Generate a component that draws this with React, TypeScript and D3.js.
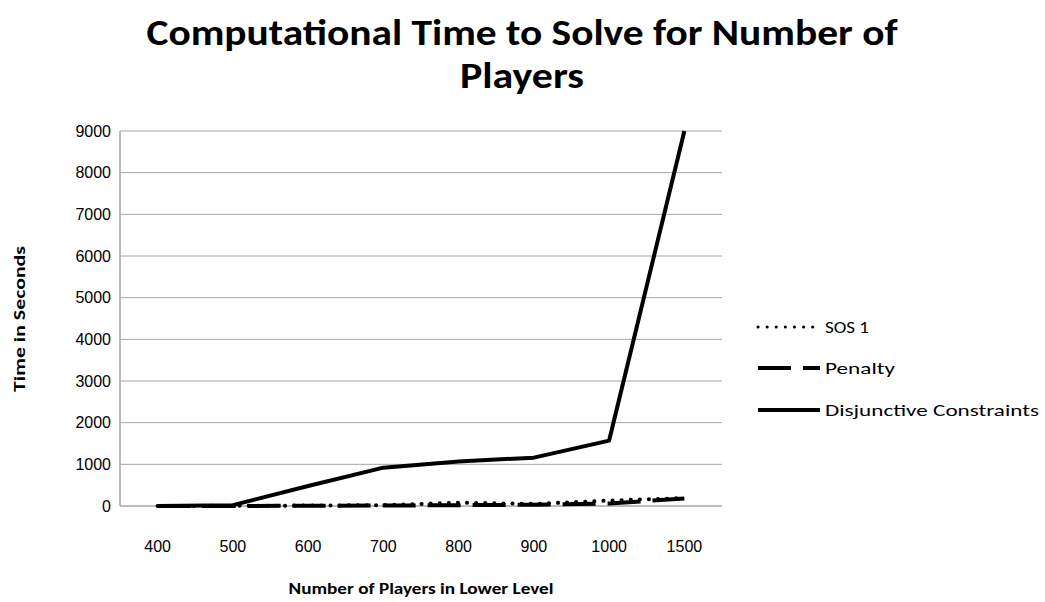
import React from "react";
import * as d3 from "d3";

const categories = ["400", "500", "600", "700", "800", "900", "1000", "1500"];
const sos1 = [0, 5, 10, 20, 80, 50, 130, 190];
const penalty = [0, 2, 5, 10, 20, 30, 60, 180];
const disjunctive = [0, 20, 480, 920, 1070, 1160, 1570, 9000];
const yTicks = [0, 1000, 2000, 3000, 4000, 5000, 6000, 7000, 8000, 9000];
const seriesNames = ["SOS 1", "Penalty", "Disjunctive Constraints"];

const W = 1045;
const H = 602;
const left = 120;
const right = 722;
const top = 131;
const bottom = 506;

const calibri = "Carlito, Lato, 'Open Sans', sans-serif";

export default function App() {
  const x = d3.scalePoint<string>().domain(categories).range([left, right]).padding(0.5);
  const y = d3.scaleLinear().domain([0, 9000]).range([bottom, top]);
  const line = d3
    .line<number>()
    .x((_, i) => x(categories[i]) as number)
    .y((d) => y(d));

  const styles = [
    { dash: "0.1,9", cap: "round", width: 4 },
    { dash: "33,12", cap: "butt", width: 4 },
    { dash: "none", cap: "butt", width: 4 },
  ];
  const data = [sos1, penalty, disjunctive];
  const legendY = [327, 368, 410];

  return (
    <svg
      width={W}
      height={H}
      style={{ position: "absolute", left: 0, top: 0, background: "#fff" }}
    >
      <rect width={W} height={H} fill="#fff" />
      <text
        x={522}
        y={45}
        textAnchor="middle"
        fontFamily={calibri}
        fontWeight="bold"
        fontSize={36}
        textLength={751}
        lengthAdjust="spacingAndGlyphs"
      >
        Computational Time to Solve for Number of
      </text>
      <text
        x={522}
        y={88}
        textAnchor="middle"
        fontFamily={calibri}
        fontWeight="bold"
        fontSize={36}
        textLength={124}
        lengthAdjust="spacingAndGlyphs"
      >
        Players
      </text>

      {yTicks.map((t) => (
        <g key={t}>
          {t > 0 && (
            <line x1={left} x2={right} y1={y(t)} y2={y(t)} stroke="#a6a6a6" strokeWidth={1} />
          )}
          <text
            x={111}
            y={y(t)}
            dy="0.36em"
            textAnchor="end"
            fontFamily="'Liberation Sans', Arial, sans-serif"
            fontSize={16}
            fill="#000"
          >
            {t}
          </text>
        </g>
      ))}
      <line x1={left} x2={left} y1={top} y2={bottom} stroke="#a6a6a6" strokeWidth={1.5} />
      <line x1={left} x2={right} y1={bottom} y2={bottom} stroke="#a6a6a6" strokeWidth={1.5} />

      {categories.map((c) => (
        <text
          key={c}
          x={x(c) as number}
          y={546}
          dy="0.36em"
          textAnchor="middle"
          fontFamily="'Liberation Sans', Arial, sans-serif"
          fontSize={16}
        >
          {c}
        </text>
      ))}

      <text
        x={421}
        y={594}
        textAnchor="middle"
        fontFamily={calibri}
        fontWeight="bold"
        fontSize={16}
        textLength={265}
        lengthAdjust="spacingAndGlyphs"
      >
        Number of Players in Lower Level
      </text>
      <text
        transform="translate(25,319) rotate(-90)"
        textAnchor="middle"
        fontFamily={calibri}
        fontWeight="bold"
        fontSize={16}
        textLength={146}
        lengthAdjust="spacingAndGlyphs"
      >
        Time in Seconds
      </text>

      {data.map((d, i) => (
        <path
          key={i}
          d={line(d) || ""}
          fill="none"
          stroke="#000"
          strokeWidth={styles[i].width}
          strokeDasharray={styles[i].dash}
          strokeLinecap={styles[i].cap as any}
          strokeLinejoin="round"
        />
      ))}

      {seriesNames.map((n, i) => (
        <g key={n}>
          <line
            x1={758}
            x2={i === 0 ? 816 : 820}
            y1={legendY[i]}
            y2={legendY[i]}
            stroke="#000"
            strokeWidth={i === 0 ? 3 : 4}
            strokeDasharray={styles[i].dash}
            strokeLinecap={styles[i].cap as any}
          />
          <text
            x={825}
            y={legendY[i]}
            dy="0.35em"
            fontFamily={calibri}
            fontSize={17}
            textLength={[44, 70, 214][i]}
            lengthAdjust="spacingAndGlyphs"
          >
            {n}
          </text>
        </g>
      ))}
    </svg>
  );
}
